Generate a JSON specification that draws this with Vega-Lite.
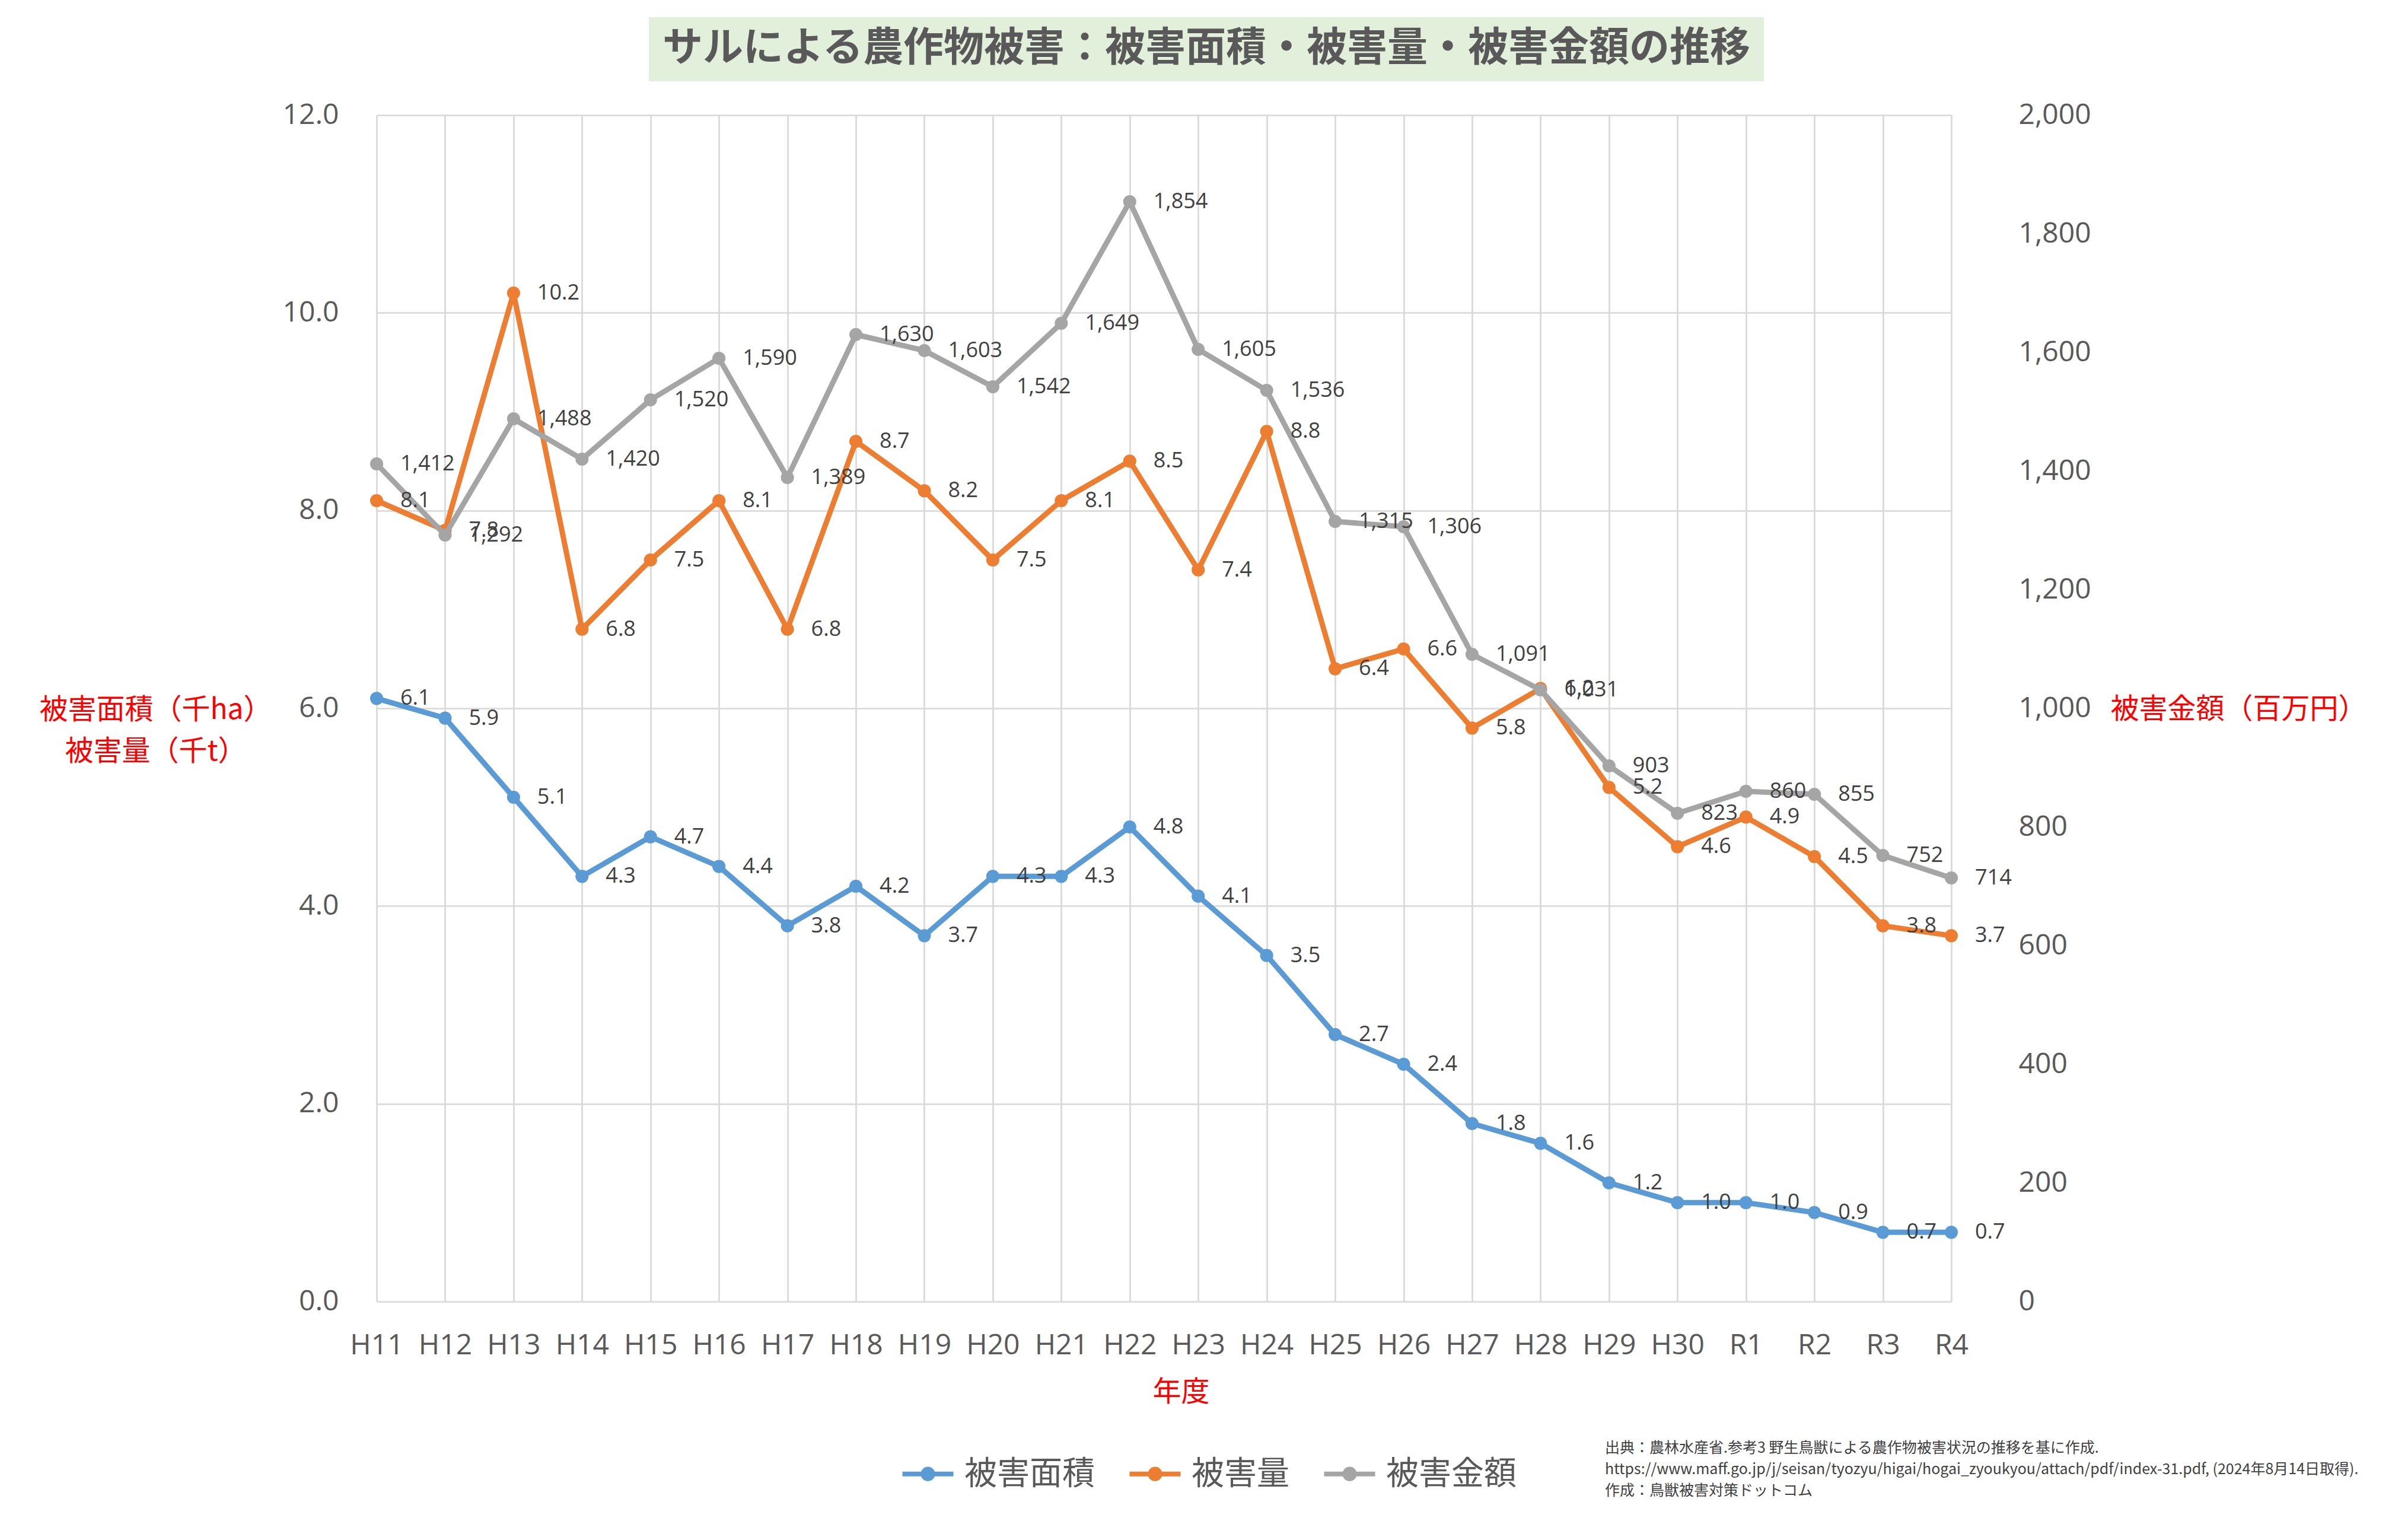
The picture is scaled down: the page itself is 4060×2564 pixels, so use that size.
{
  "$schema": "https://vega.github.io/schema/vega-lite/v6.json",
  "background": "white",
  "padding": {"left": 65, "top": 29, "right": 0, "bottom": 30},
  "spacing": 165,
  "bounds": "flush",
  "config": {
    "view": {"stroke": null},
    "axis": {
      "domain": false,
      "ticks": false,
      "labelFont": "Open Sans",
      "labelColor": "#595959",
      "labelFontSize": 48,
      "titleFont": "Noto Sans CJK JP",
      "titleColor": "#FF0000",
      "titleFontSize": 48,
      "titleFontWeight": "normal",
      "gridColor": "#D9D9D9",
      "gridWidth": 2.7
    }
  },
  "datasets": {
    "left": [
      {"年度": "H11", "系列": "被害面積", "値": 6.1},
      {"年度": "H12", "系列": "被害面積", "値": 5.9},
      {"年度": "H13", "系列": "被害面積", "値": 5.1},
      {"年度": "H14", "系列": "被害面積", "値": 4.3},
      {"年度": "H15", "系列": "被害面積", "値": 4.7},
      {"年度": "H16", "系列": "被害面積", "値": 4.4},
      {"年度": "H17", "系列": "被害面積", "値": 3.8},
      {"年度": "H18", "系列": "被害面積", "値": 4.2},
      {"年度": "H19", "系列": "被害面積", "値": 3.7},
      {"年度": "H20", "系列": "被害面積", "値": 4.3},
      {"年度": "H21", "系列": "被害面積", "値": 4.3},
      {"年度": "H22", "系列": "被害面積", "値": 4.8},
      {"年度": "H23", "系列": "被害面積", "値": 4.1},
      {"年度": "H24", "系列": "被害面積", "値": 3.5},
      {"年度": "H25", "系列": "被害面積", "値": 2.7},
      {"年度": "H26", "系列": "被害面積", "値": 2.4},
      {"年度": "H27", "系列": "被害面積", "値": 1.8},
      {"年度": "H28", "系列": "被害面積", "値": 1.6},
      {"年度": "H29", "系列": "被害面積", "値": 1.2},
      {"年度": "H30", "系列": "被害面積", "値": 1.0},
      {"年度": "R1", "系列": "被害面積", "値": 1.0},
      {"年度": "R2", "系列": "被害面積", "値": 0.9},
      {"年度": "R3", "系列": "被害面積", "値": 0.7},
      {"年度": "R4", "系列": "被害面積", "値": 0.7},
      {"年度": "H11", "系列": "被害量", "値": 8.1},
      {"年度": "H12", "系列": "被害量", "値": 7.8},
      {"年度": "H13", "系列": "被害量", "値": 10.2},
      {"年度": "H14", "系列": "被害量", "値": 6.8},
      {"年度": "H15", "系列": "被害量", "値": 7.5},
      {"年度": "H16", "系列": "被害量", "値": 8.1},
      {"年度": "H17", "系列": "被害量", "値": 6.8},
      {"年度": "H18", "系列": "被害量", "値": 8.7},
      {"年度": "H19", "系列": "被害量", "値": 8.2},
      {"年度": "H20", "系列": "被害量", "値": 7.5},
      {"年度": "H21", "系列": "被害量", "値": 8.1},
      {"年度": "H22", "系列": "被害量", "値": 8.5},
      {"年度": "H23", "系列": "被害量", "値": 7.4},
      {"年度": "H24", "系列": "被害量", "値": 8.8},
      {"年度": "H25", "系列": "被害量", "値": 6.4},
      {"年度": "H26", "系列": "被害量", "値": 6.6},
      {"年度": "H27", "系列": "被害量", "値": 5.8},
      {"年度": "H28", "系列": "被害量", "値": 6.2},
      {"年度": "H29", "系列": "被害量", "値": 5.2},
      {"年度": "H30", "系列": "被害量", "値": 4.6},
      {"年度": "R1", "系列": "被害量", "値": 4.9},
      {"年度": "R2", "系列": "被害量", "値": 4.5},
      {"年度": "R3", "系列": "被害量", "値": 3.8},
      {"年度": "R4", "系列": "被害量", "値": 3.7}
    ],
    "right": [
      {"年度": "H11", "系列": "被害金額", "値": 1412},
      {"年度": "H12", "系列": "被害金額", "値": 1292},
      {"年度": "H13", "系列": "被害金額", "値": 1488},
      {"年度": "H14", "系列": "被害金額", "値": 1420},
      {"年度": "H15", "系列": "被害金額", "値": 1520},
      {"年度": "H16", "系列": "被害金額", "値": 1590},
      {"年度": "H17", "系列": "被害金額", "値": 1389},
      {"年度": "H18", "系列": "被害金額", "値": 1630},
      {"年度": "H19", "系列": "被害金額", "値": 1603},
      {"年度": "H20", "系列": "被害金額", "値": 1542},
      {"年度": "H21", "系列": "被害金額", "値": 1649},
      {"年度": "H22", "系列": "被害金額", "値": 1854},
      {"年度": "H23", "系列": "被害金額", "値": 1605},
      {"年度": "H24", "系列": "被害金額", "値": 1536},
      {"年度": "H25", "系列": "被害金額", "値": 1315},
      {"年度": "H26", "系列": "被害金額", "値": 1306},
      {"年度": "H27", "系列": "被害金額", "値": 1091},
      {"年度": "H28", "系列": "被害金額", "値": 1031},
      {"年度": "H29", "系列": "被害金額", "値": 903},
      {"年度": "H30", "系列": "被害金額", "値": 823},
      {"年度": "R1", "系列": "被害金額", "値": 860},
      {"年度": "R2", "系列": "被害金額", "値": 855},
      {"年度": "R3", "系列": "被害金額", "値": 752},
      {"年度": "R4", "系列": "被害金額", "値": 714}
    ]
  },
  "vconcat": [
    {
      "bounds": "flush",
      "spacing": 0,
      "hconcat": [
        {
          "width": 459,
          "height": 108,
          "data": {"values": []},
          "mark": {"type": "text"}
        },
        {
          "width": 1880,
          "height": 108,
          "view": {"fill": "#E2EFDA", "stroke": null},
          "data": {"values": [{"t": "サルによる農作物被害：被害面積・被害量・被害金額の推移"}]},
          "mark": {"type": "text", "font": "Noto Sans CJK JP", "fontSize": 68, "fontWeight": "bold", "color": "#595959", "align": "center", "baseline": "middle"},
          "encoding": {"text": {"field": "t"}}
        }
      ]
    },
    {
      "width": 2713,
      "height": 2000,
      "title": {
        "text": [
          "出典：農林水産省.参考3 野生鳥獣による農作物被害状況の推移を基に作成.",
          "https://www.maff.go.jp/j/seisan/tyozyu/higai/hogai_zyoukyou/attach/pdf/index-31.pdf, (2024年8月14日取得).",
          "作成：鳥獣被害対策ドットコム"
        ],
        "orient": "bottom",
        "anchor": "start",
        "frame": "group",
        "align": "left",
        "baseline": "top",
        "dx": 2071,
        "offset": 58,
        "fontSize": 25,
        "lineHeight": 36,
        "color": "#404040",
        "font": "Noto Sans CJK JP",
        "fontWeight": "normal"
      },
      "resolve": {"scale": {"y": "independent"}},
      "layer": [
        {
          "data": {"name": "left"},
          "encoding": {
            "x": {
              "field": "年度", "type": "ordinal", "sort": null,
              "scale": {"type": "point", "domain": ["H11","H12","H13","H14","H15","H16","H17","H18","H19","H20","H21","H22","H23","H24","H25","H26","H27","H28","H29","H30","R1","R2","R3","R4"], "range": [0, 2655], "padding": 0},
              "axis": {"grid": true, "labelAngle": 0, "labelPadding": 50, "title": "年度", "titleX": 1356, "titleY": 153, "titleAlign": "center", "titleBaseline": "middle"}
            },
            "y": {
              "field": "値", "type": "quantitative",
              "scale": {"domain": [0, 12], "nice": false},
              "axis": {"orient": "left", "values": [0, 2, 4, 6, 8, 10, 12], "format": ".1f", "grid": true, "labelPadding": 64,
                "title": ["被害面積（千ha）", "被害量（千t）"], "titleAngle": 0, "titleX": -373, "titleY": 1003, "titleAlign": "center", "titleBaseline": "middle", "titleLineHeight": 70}
            },
            "color": {
              "field": "系列", "type": "nominal",
              "scale": {"domain": ["被害面積", "被害量", "被害金額"], "range": ["#5B9BD5", "#ED7D31", "#A5A5A5"]},
              "legend": {
                "orient": "none", "legendX": 882, "legendY": 2408, "direction": "horizontal", "title": null, "padding": 0,
                "labelFontSize": 55, "labelFont": "Noto Sans CJK JP", "labelColor": "#595959", "labelOffset": 14, "columnPadding": 41, "labelLimit": 1000,
                "symbolType": "M-1,0L1,0M0.19,0A0.19,0.19,0,1,1,-0.19,0A0.19,0.19,0,1,1,0.19,0",
                "symbolSize": 7400, "symbolStrokeWidth": 8, "symbolOpacity": 1,
                "encode": {"symbols": {"update": {"fill": {"scale": "color", "field": "value"}, "stroke": {"scale": "color", "field": "value"}}}}
              }
            }
          },
          "layer": [
            {"mark": {"type": "line", "strokeWidth": 9, "strokeJoin": "round", "strokeCap": "round"}},
            {"mark": {"type": "point", "filled": true, "size": 490, "opacity": 1}}
          ]
        },
        {
          "data": {"name": "right"},
          "encoding": {
            "x": {
              "field": "年度", "type": "ordinal", "sort": null,
              "scale": {"type": "point", "domain": ["H11","H12","H13","H14","H15","H16","H17","H18","H19","H20","H21","H22","H23","H24","H25","H26","H27","H28","H29","H30","R1","R2","R3","R4"], "range": [0, 2655], "padding": 0}
            },
            "y": {
              "field": "値", "type": "quantitative",
              "scale": {"domain": [0, 2000], "nice": false},
              "axis": {"orient": "right", "values": [0, 200, 400, 600, 800, 1000, 1200, 1400, 1600, 1800, 2000], "format": ",.0f", "grid": false, "labelPadding": 55,
                "title": "被害金額（百万円）", "titleAngle": 0, "titleX": 426, "titleY": 1002, "titleAlign": "center", "titleBaseline": "middle"}
            },
            "color": {
              "field": "系列", "type": "nominal",
              "scale": {"domain": ["被害面積", "被害量", "被害金額"], "range": ["#5B9BD5", "#ED7D31", "#A5A5A5"]}
            }
          },
          "layer": [
            {"mark": {"type": "line", "strokeWidth": 9, "strokeJoin": "round", "strokeCap": "round"}},
            {"mark": {"type": "point", "filled": true, "size": 490, "opacity": 1}}
          ]
        },
        {
          "data": {"name": "left"},
          "mark": {"type": "text", "align": "left", "baseline": "middle", "dx": 40, "fontSize": 36, "font": "Open Sans", "color": "#404040"},
          "encoding": {
            "x": {
              "field": "年度", "type": "ordinal", "sort": null,
              "scale": {"type": "point", "domain": ["H11","H12","H13","H14","H15","H16","H17","H18","H19","H20","H21","H22","H23","H24","H25","H26","H27","H28","H29","H30","R1","R2","R3","R4"], "range": [0, 2655], "padding": 0}
            },
            "y": {"field": "値", "type": "quantitative", "scale": {"domain": [0, 12], "nice": false}, "axis": null},
            "text": {"field": "値", "type": "quantitative", "format": ".1f"}
          }
        },
        {
          "data": {"name": "right"},
          "mark": {"type": "text", "align": "left", "baseline": "middle", "dx": 40, "fontSize": 36, "font": "Open Sans", "color": "#404040"},
          "encoding": {
            "x": {
              "field": "年度", "type": "ordinal", "sort": null,
              "scale": {"type": "point", "domain": ["H11","H12","H13","H14","H15","H16","H17","H18","H19","H20","H21","H22","H23","H24","H25","H26","H27","H28","H29","H30","R1","R2","R3","R4"], "range": [0, 2655], "padding": 0}
            },
            "y": {"field": "値", "type": "quantitative", "scale": {"domain": [0, 2000], "nice": false}, "axis": null},
            "text": {"field": "値", "type": "quantitative", "format": ",.0f"}
          }
        }
      ]
    }
  ]
}
